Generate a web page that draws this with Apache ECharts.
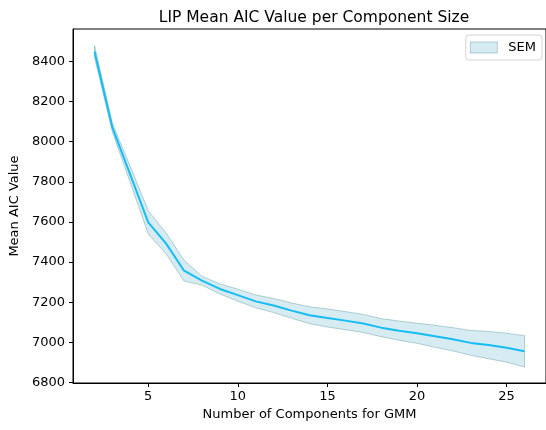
<!DOCTYPE html>
<html>
<head>
<meta charset="utf-8">
<script src="https://cdn.jsdelivr.net/npm/echarts@6/dist/echarts.min.js"></script>
<style>html,body{margin:0;padding:0;background:#fff;}#c{width:546px;height:430px;}</style>
</head>
<body>
<div id="c"></div>
<script>
// Data
var components = [2,3,4,5,6,7,8,9,10,11,12,13,14,15,16,17,18,19,20,21,22,23,24,25,26];
var meanAIC = [8450,8070,7835,7598,7492,7357,7307,7266,7235,7204,7183,7158,7135,7121,7108,7094,7073,7058,7045,7030,7015,6997,6986,6973,6955];
var semAIC = [30,22,40,58,52,52,22,25,30,32,35,38,42,45,45,45,45,48,50,55,58,62,68,72,78];
var xTicks = [5,10,15,20,25];
var yTicks = [6800,7000,7200,7400,7600,7800,8000,8200,8400];

var FONT = 'DejaVu Sans';
var bandFill = 'rgba(173,216,230,0.5)';
var bandEdge = 'rgba(95,158,160,0.45)';

var chart = echarts.init(document.getElementById('c'), null, {renderer: 'canvas'});
var bandData = components.map(function(x, i){ return [x, meanAIC[i] - semAIC[i], meanAIC[i] + semAIC[i]]; });
var lineData = components.map(function(x, i){ return [x, meanAIC[i]]; });

chart.setOption({
  animation: false,
  backgroundColor: '#fff',
  title: {
    text: 'LIP Mean AIC Value per Component Size',
    left: 309, top: 5, textAlign: 'center',
    textStyle: {fontFamily: FONT, fontSize: 15.5, fontWeight: 'normal', color: '#000'}
  },
  grid: {left: 73, top: 29, width: 475, height: 354, show: true, borderColor: '#000', borderWidth: 1, backgroundColor: 'transparent'},
  legend: {
    right: 4, top: 35,
    orient: 'vertical',
    borderColor: '#d4d4d4', borderWidth: 1, borderRadius: 3,
    padding: [6, 6, 6, 4],
    itemWidth: 27, itemHeight: 11,
    textStyle: {fontFamily: FONT, fontSize: 13, color: '#000', padding: [0,0,0,6]},
    data: [{name: 'SEM', icon: 'rect', itemStyle: {color: bandFill, borderColor: bandEdge, borderWidth: 1}}]
  },
  xAxis: {
    type: 'value', min: 0.8, max: 27.2,
    name: 'Number of Components for GMM', nameLocation: 'middle', nameGap: 24,
    nameTextStyle: {fontFamily: FONT, fontSize: 13, color: '#000'},
    splitLine: {show: false},
    axisLine: {show: true, lineStyle: {color: '#000', width: 1}},
    axisTick: {show: true, length: 4, lineStyle: {color: '#000'}, customValues: xTicks},
    axisLabel: {fontFamily: FONT, fontSize: 13, color: '#000', margin: 7, customValues: xTicks,
      formatter: function(v){ return String(v); }}
  },
  yAxis: {
    type: 'value', min: 6797, max: 8562,
    name: 'Mean AIC Value', nameLocation: 'middle', nameGap: 46,
    nameTextStyle: {fontFamily: FONT, fontSize: 13, color: '#000'},
    splitLine: {show: false},
    axisLine: {show: true, lineStyle: {color: '#000', width: 1}},
    axisTick: {show: true, length: 4, lineStyle: {color: '#000'}, customValues: yTicks},
    axisLabel: {fontFamily: FONT, fontSize: 13, color: '#000', margin: 8, customValues: yTicks,
      formatter: function(v){ return String(v); }}
  },
  series: [
    {
      name: 'SEM', type: 'custom',
      itemStyle: {color: bandFill, borderColor: bandEdge},
      data: bandData,
      z: 1,
      renderItem: function(params, api){
        if (params.dataIndex !== 0) return null;
        var pts = [];
        for (var i = 0; i < bandData.length; i++) pts.push(api.coord([bandData[i][0], bandData[i][2]]));
        for (var j = bandData.length - 1; j >= 0; j--) pts.push(api.coord([bandData[j][0], bandData[j][1]]));
        return {
          type: 'polygon',
          shape: {points: pts},
          style: {fill: bandFill, stroke: bandEdge, lineWidth: 1}
        };
      }
    },
    {
      name: 'mean', type: 'line', data: lineData, showSymbol: false, symbol: 'none',
      lineStyle: {color: '#16bdf5', width: 2}, z: 3
    }
  ]
});
</script>
</body>
</html>
